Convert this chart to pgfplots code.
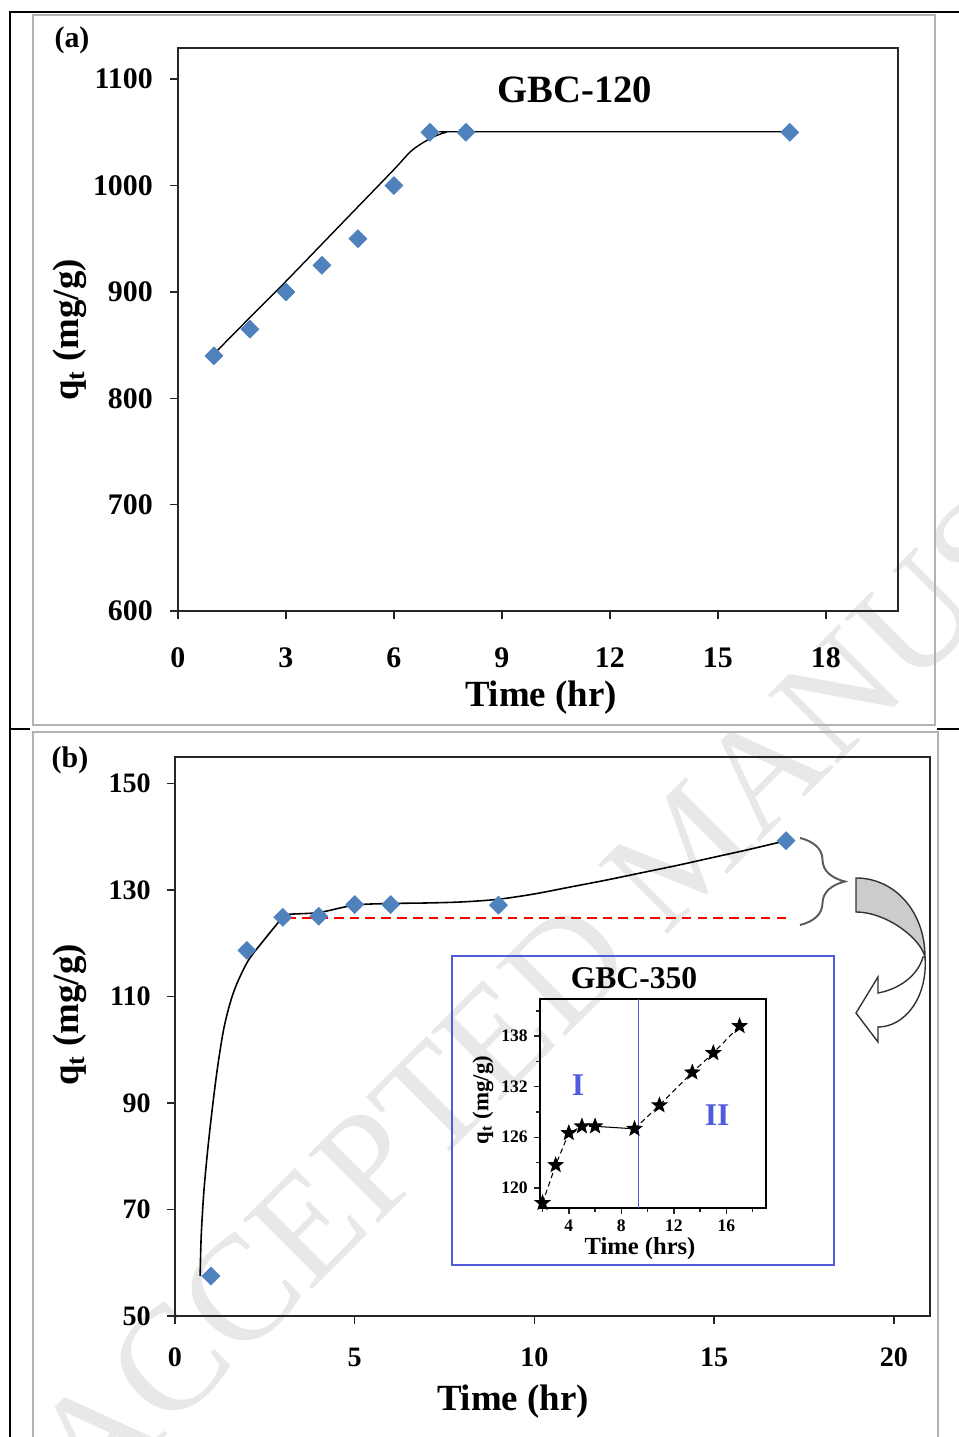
\documentclass[border=0pt]{standalone}
\usepackage{fontspec}
\setmainfont{Liberation Serif}
\usepackage{pgfplots}
\pgfplotsset{compat=1.18}
\usetikzlibrary{decorations.pathreplacing}

\definecolor{mkblue}{RGB}{79,129,189}
\definecolor{boxblue}{RGB}{80,90,220}
\definecolor{wmgray}{RGB}{232,232,232}
\newcommand{\fs}[1]{\fontsize{#1}{#1}\selectfont\bfseries}

% filled five-point star
\pgfdeclareplotmark{fstar}{%
  \pgfpathmoveto{\pgfpointpolar{90}{\pgfplotmarksize}}%
  \pgfpathlineto{\pgfpointpolar{126}{0.42\pgfplotmarksize}}%
  \pgfpathlineto{\pgfpointpolar{162}{\pgfplotmarksize}}%
  \pgfpathlineto{\pgfpointpolar{198}{0.42\pgfplotmarksize}}%
  \pgfpathlineto{\pgfpointpolar{234}{\pgfplotmarksize}}%
  \pgfpathlineto{\pgfpointpolar{270}{0.42\pgfplotmarksize}}%
  \pgfpathlineto{\pgfpointpolar{306}{\pgfplotmarksize}}%
  \pgfpathlineto{\pgfpointpolar{342}{0.42\pgfplotmarksize}}%
  \pgfpathlineto{\pgfpointpolar{18}{\pgfplotmarksize}}%
  \pgfpathlineto{\pgfpointpolar{54}{0.42\pgfplotmarksize}}%
  \pgfpathclose
  \pgfusepathqfillstroke
}

\pgfplotsset{
  panel/.style={
    scale only axis, anchor=south west,
    axis line style={black!85, line width=1.1pt},
    tick style={black!85, line width=0.8pt},
    tick align=outside, xtick pos=left, ytick pos=left,
    major tick length=0.16cm, minor tick length=0.09cm,
    /pgf/number format/assume math mode=true,
    /pgf/number format/1000 sep={},
  },
  diam/.style={only marks, mark=square*, mark size=3.6pt,
    mark options={rotate=45, fill=mkblue, draw=mkblue}},
}

% panel (a): GBC-120
\pgfplotstableread{
x q
1 840
2 865
3 900
4 925
5 950
6 1000
7 1050
8 1050
17 1050
}\gbcA
\pgfplotstableread{
x q
0.95 840
2 876
3 910
4 945
5 980
6 1015
6.5 1033
7 1044
7.45 1050
8 1050.5
17 1050.5
}\fitA

% panel (b): GBC-350
\pgfplotstableread{
x q
1 57.5
2 118.7
3 124.9
4 125.1
5 127.3
6 127.3
9 127.2
17 139.3
}\gbcB
\pgfplotstableread{
x q
0.70 57.5
0.73 65.0
0.80 73.0
0.90 80.5
1.03 88.5
1.18 96.5
1.35 103.7
1.53 108.7
1.72 112.4
2.04 116.8
2.46 120.5
2.92 124.3
3.10 125.4
4 125.8
5 127.2
6 127.5
7 127.6
8 127.8
9 128.3
10 129.3
11 130.6
12 131.9
13 133.3
14 134.7
15 136.2
16 137.7
17 139.3
}\fitB

% inset
\pgfplotstableread{
x q
2 118.2
3 122.7
4 126.5
5 127.3
6 127.3
}\insA
\pgfplotstableread{
x q
6 127.3
9 127.0
}\insB
\pgfplotstableread{
x q
9 127.0
10.9 129.8
13.4 133.7
15 136.0
17 139.2
}\insC

\begin{document}
\begin{tikzpicture}[x=0.02cm, y=0.02cm]
\useasboundingbox (0,0) rectangle (959,1437);
\clip (0,0) rectangle (959,1437);

% watermark
\node[rotate=45, anchor=west, text=wmgray, inner sep=0,
      font=\fontsize{85}{85}\selectfont] at (58,-38) {ACCEPTED MANUSCRIPT};

% table rules and panel frames
\draw[black, line width=1.1pt] (10,-5) -- (10,1425) -- (959,1425);
\draw[black, line width=1.1pt] (10,708) -- (30,708) (937,708) -- (959,708);
\draw[gray!60, line width=1.1pt] (33,712) rectangle (935,1422);
\draw[gray!60, line width=1.1pt] (33,-10) rectangle (938,705);

% ---------- (a)
\begin{axis}[panel, at={(3.56cm,16.52cm)}, width=14.4cm, height=11.26cm,
    xmin=0, xmax=20, ymin=600, ymax=1129,
    xtick={0,3,...,18}, ytick={600,700,...,1100},
    tick label style={font=\fs{17}},
    xticklabel style={yshift=-0.45cm}, yticklabel style={xshift=-0.22cm}]
\addplot[black, line width=0.8pt, smooth] table {\fitA};
\addplot[diam] table {\gbcA};
\end{axis}
\node[font=\fs{17}] at (72,1397) {(a)};
\node[font=\fs{22}] at (575,1347) {GBC-120};
\node[font=\fs{21}] at (541,739) {Time (hr)};
\node[font=\fs{21}, rotate=90] at (70,1107) {q\textsubscript{t} (mg/g)};

% ---------- (b)
\begin{axis}[panel, at={(3.5cm,2.42cm)}, width=15.1cm, height=11.18cm,
    xmin=0, xmax=21, ymin=50, ymax=155,
    xtick={0,5,...,20}, ytick={50,70,...,150},
    tick label style={font=\fs{16}},
    xticklabel style={yshift=-0.36cm}, yticklabel style={xshift=-0.2cm}]
\addplot[red, line width=1.1pt, dash pattern=on 5.5pt off 3.5pt] coordinates {(3.1,124.7) (17.1,124.7)};
\addplot[black, line width=0.9pt, smooth] table {\fitB};
\addplot[diam] table {\gbcB};
\end{axis}
\node[font=\fs{17}] at (70,677) {(b)};
\node[font=\fs{21}] at (513,35) {Time (hr)};
\node[font=\fs{21}, rotate=90] at (70,422) {q\textsubscript{t} (mg/g)};

% brace and curved arrow
\draw[black!65, line width=1.1pt, decorate,
      decoration={brace, amplitude=0.9cm}] (800,599) -- (800,512);
\filldraw[fill=gray!40, draw=black!80, line width=0.8pt]
  (856,559) .. controls (895,559) and (925,525) .. (925,480)
  .. controls (920,500) and (885,525) .. (856,525) -- cycle;
\filldraw[fill=white, draw=black!80, line width=0.8pt]
  (925,480) .. controls (928,440) and (905,410) .. (878,410)
  -- (878,395) -- (856,424) -- (878,460) -- (878,444)
  .. controls (900,448) and (918,462) .. (923,480) -- cycle;

% inset
\draw[boxblue, line width=1pt] (452,172) rectangle (834,481);
\node[font=\fs{18}] at (634,459) {GBC-350};
\begin{axis}[panel, at={(10.8cm,4.58cm)}, width=4.52cm, height=4.18cm,
    axis line style={black, line width=1.2pt},
    xmin=1.8, xmax=19, ymin=117.6, ymax=142.4,
    xtick={4,8,12,16}, minor xtick={2,6,10,14,18},
    ytick={120,126,132,138}, minor ytick={123,129,135,141},
    major tick length=0.12cm, minor tick length=0.07cm,
    tick label style={font=\fs{10}},
    xticklabel style={yshift=0cm}]
\addplot[boxblue, line width=0.9pt] coordinates {(9.3,117.6) (9.3,142.4)};
\addplot[black, line width=0.6pt, densely dashed, mark=fstar, mark size=4.2pt,
         mark options={solid, fill=black}] table {\insA};
\addplot[black, line width=0.6pt] table {\insB};
\addplot[black, line width=0.6pt, densely dashed, mark=fstar, mark size=4.2pt,
         mark options={solid, fill=black}] table {\insC};
\node[boxblue, font=\fs{18}] at (axis cs:4.7,132.2) {I};
\node[boxblue, font=\fs{18}] at (axis cs:15.3,128.6) {II};
\end{axis}
\node[font=\fs{14}] at (640,188) {Time (hrs)};
\node[font=\fs{13}, rotate=90] at (483,337) {q\textsubscript{t} (mg/g)};
\end{tikzpicture}
\end{document}
